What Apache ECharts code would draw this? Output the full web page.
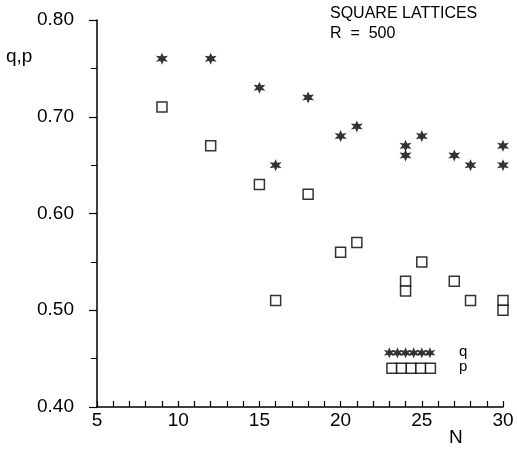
<!DOCTYPE html>
<html lang="en">
  <head>
    <meta charset="UTF-8" />
    <title>Square lattices</title>
    <script src="https://cdn.jsdelivr.net/npm/echarts@6/dist/echarts.min.js"></script>
  </head>
  <body style="margin:0;background:#fff">
    <div id="main" style="width: 517px; height: 450px"></div>
    <script type="text/javascript">
      // values
      const nValues = [9, 12, 15, 16, 18, 20, 21, 24, 24, 25, 27, 28, 30, 30];
      const qValues = [0.76, 0.76, 0.73, 0.65, 0.72, 0.68, 0.69, 0.67, 0.66, 0.68, 0.66, 0.65, 0.67, 0.65];
      const pValues = [0.71, 0.67, 0.63, 0.51, 0.62, 0.56, 0.57, 0.53, 0.52, 0.55, 0.53, 0.51, 0.51, 0.50];

      // in-plot key
      const keyStarX = [23.0, 23.5, 24.0, 24.5, 25.0, 25.5];
      const keyStarY = 0.456;
      const keySquareX = [23.16, 23.75, 24.35, 24.94, 25.53];
      const keySquareY = 0.44;

      const xTicks = [5, 10, 15, 20, 25, 30];
      const yTicks = [0.4, 0.5, 0.6, 0.7, 0.8];

      const font = "'Liberation Sans', Arial, sans-serif";
      // six-pointed star like the plotter asterisk
      const star = "path://M5,0 L6.15,3.01 L9.33,2.5 L7.3,5 L9.33,7.5 L6.15,6.99 L5,10 L3.85,6.99 L0.67,7.5 L2.7,5 L0.67,2.5 L3.85,3.01 Z";

      const pair = (xs, ys) => xs.map((x, i) => [x, Array.isArray(ys) ? ys[i] : ys]);

      let myChart = echarts.init(document.getElementById("main"));

      let options = {
        animation: false,
        backgroundColor: "#fff",
        grid: { left: 97, right: 14, top: 20, bottom: 43 },
        xAxis: {
          type: "value",
          min: xTicks[0],
          max: xTicks[xTicks.length - 1],
          interval: 1,
          splitLine: { show: false },
          axisLine: { lineStyle: { color: "#000", width: 1.5 } },
          axisTick: { inside: true, length: 6, lineStyle: { color: "#000", width: 1.2 } },
          axisLabel: {
            color: "#000", fontSize: 19, fontFamily: font, margin: 4,
            formatter: (v) => (xTicks.includes(v) ? String(v) : "")
          }
        },
        yAxis: {
          type: "value",
          min: yTicks[0],
          max: yTicks[yTicks.length - 1],
          interval: 0.1,
          splitLine: { show: false },
          axisLine: { lineStyle: { color: "#000", width: 1.5 } },
          axisTick: { length: 8, lineStyle: { color: "#000", width: 1.2 } },
          minorTick: { show: true, splitNumber: 2, length: 6, lineStyle: { color: "#000", width: 1 } },
          axisLabel: { color: "#000", fontSize: 19, fontFamily: font, margin: 23, formatter: (v) => v.toFixed(2) }
        },
        series: [
          {
            name: "q",
            type: "scatter",
            symbol: star,
            symbolSize: 12,
            itemStyle: { color: "#000" },
            data: pair(nValues, qValues)
          },
          {
            name: "p",
            type: "scatter",
            symbol: "rect",
            symbolSize: 10,
            itemStyle: { color: "#fff", borderColor: "#000", borderWidth: 1.5 },
            data: pair(nValues, pValues)
          },
          {
            name: "q key",
            type: "scatter",
            symbol: star,
            symbolSize: 11,
            itemStyle: { color: "#000" },
            data: pair(keyStarX, keyStarY)
          },
          {
            name: "p key",
            type: "scatter",
            symbol: "rect",
            symbolSize: 10,
            itemStyle: { color: "#fff", borderColor: "#000", borderWidth: 1.5 },
            data: pair(keySquareX, keySquareY)
          }
        ],
        graphic: [
          { type: "text", left: 330, top: 6, style: { text: "SQUARE LATTICES", font: "16px " + font, fill: "#000" } },
          { type: "text", left: 330, top: 26, style: { text: "R  =  500", font: "16px " + font, fill: "#000" } },
          { type: "text", left: 6, top: 47, style: { text: "q,p", font: "19px " + font, fill: "#000" } },
          { type: "text", left: 449, top: 428, style: { text: "N", font: "19px " + font, fill: "#000" } },
          { type: "text", left: 459, top: 344, style: { text: "q", font: "15px " + font, fill: "#000" } },
          { type: "text", left: 459, top: 359, style: { text: "p", font: "15px " + font, fill: "#000" } }
        ]
      };

      myChart.setOption(options);
    </script>
  </body>
</html>
